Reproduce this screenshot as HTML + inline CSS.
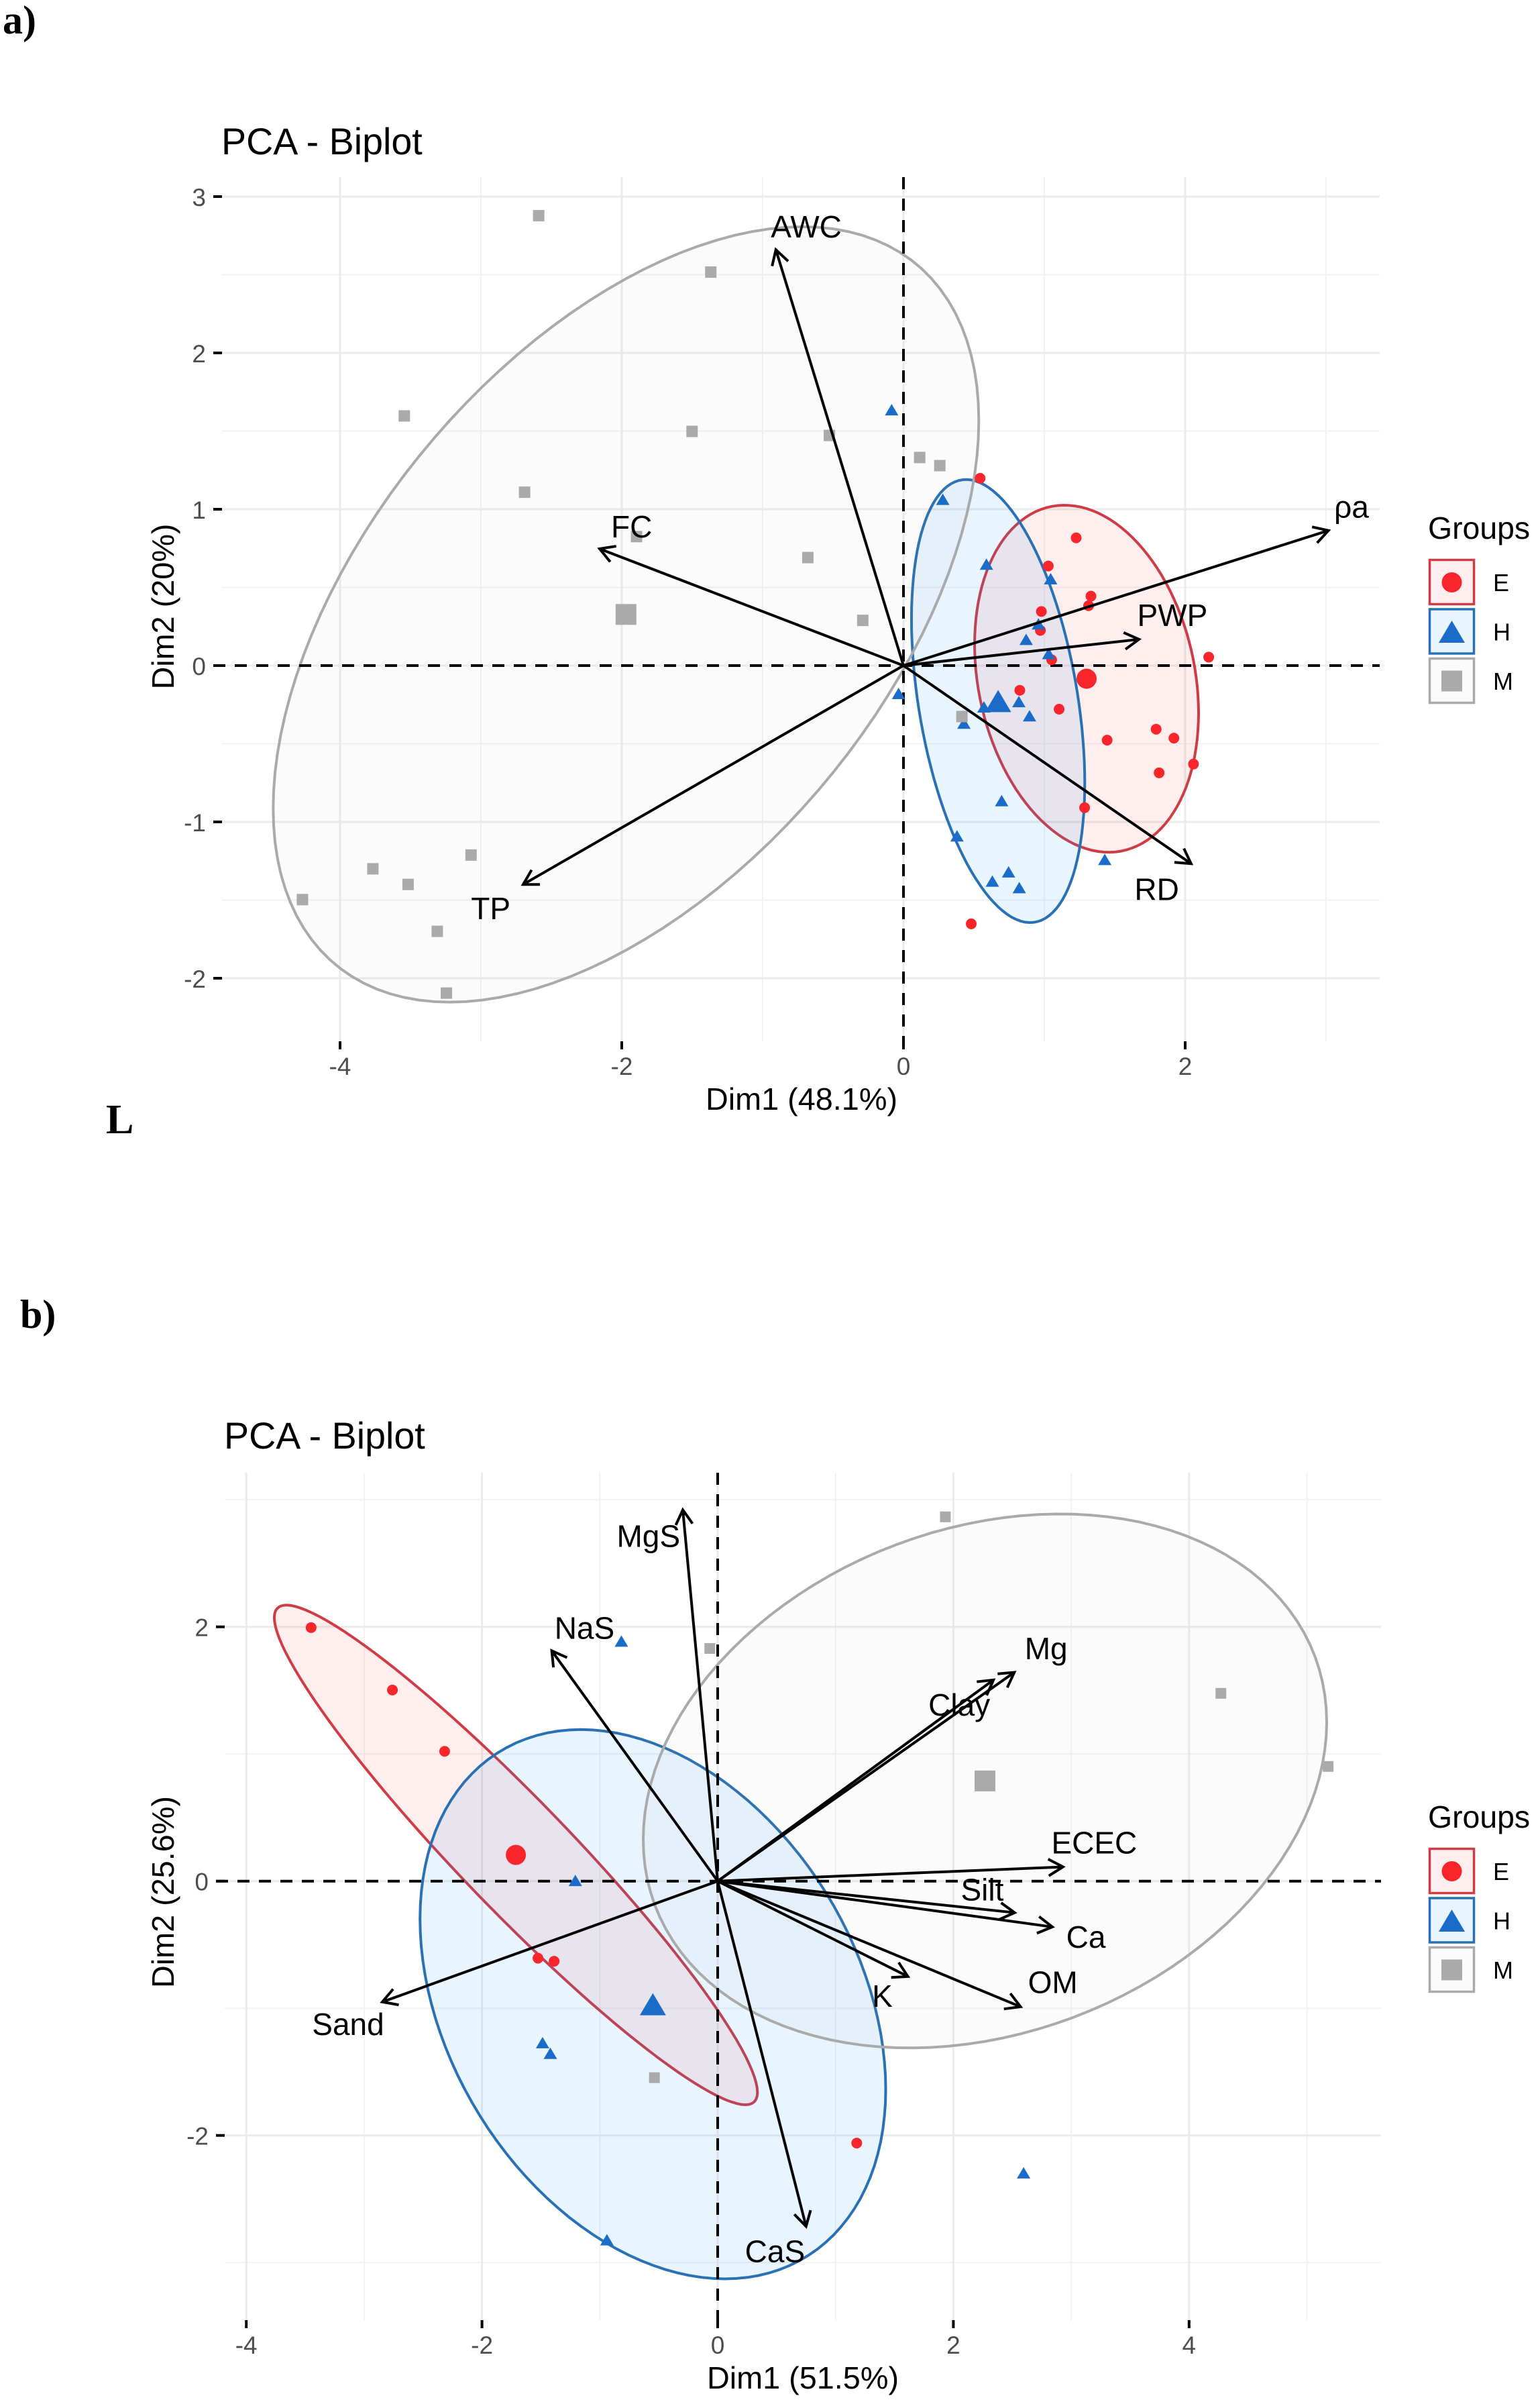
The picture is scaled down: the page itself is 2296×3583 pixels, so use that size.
<!DOCTYPE html>
<html lang="en">
<head>
<meta charset="utf-8">
<title>PCA Biplots</title>
<style>
html,body{margin:0;padding:0;background:#fff;}
svg{display:block;}
text{font-family:"Liberation Sans",sans-serif;}
.panel-tag{font-family:"Liberation Serif",serif;font-weight:bold;fill:#000;}
</style>
</head>
<body>
<svg id="chart" xmlns="http://www.w3.org/2000/svg" width="2296" height="3583" viewBox="0 0 2296 3583">
  <rect x="0" y="0" width="2296" height="3583" fill="#ffffff"/>
  <text class="panel-tag" x="4" y="50" font-size="60">a)</text>
  <text class="panel-tag" x="158" y="1689" font-size="62">L</text>
  <text class="panel-tag" x="30" y="1979" font-size="60">b)</text>

  <text x="330" y="230" font-size="55.6" fill="#000">PCA - Biplot</text>
  <text x="1195" y="1654" font-size="46.8" text-anchor="middle" fill="#000">Dim1 (48.1%)</text>
  <text transform="translate(259 904) rotate(-90)" font-size="46.8" text-anchor="middle" fill="#000">Dim2 (20%)</text>

  <text x="334" y="2159" font-size="55.6" fill="#000">PCA - Biplot</text>
  <text x="1197" y="3560" font-size="46.8" text-anchor="middle" fill="#000">Dim1 (51.5%)</text>
  <text transform="translate(259 2820) rotate(-90)" font-size="46.8" text-anchor="middle" fill="#000">Dim2 (25.6%)</text>
</svg>
<script>
/* ---------- Panel a data ---------- */
const aEx = [0.544,1.226,1.028,1.331,1.314,0.979,0.972,1.052,2.167,0.826,1.105,1.446,1.794,1.920,2.059,1.815,1.286,0.481];
const aEy = [1.198,0.817,0.637,0.444,0.383,0.346,0.225,0.037,0.054,-0.158,-0.279,-0.477,-0.407,-0.464,-0.630,-0.686,-0.909,-1.652];
const aHx = [-0.084,0.279,0.589,1.045,0.958,0.871,1.031,-0.035,0.571,0.819,0.895,0.429,0.697,0.380,0.746,0.631,0.822,1.429];
const aHy = [1.637,1.064,0.649,0.556,0.267,0.168,0.077,-0.178,-0.264,-0.230,-0.321,-0.368,-0.864,-1.089,-1.319,-1.378,-1.420,-1.240];
const aMx = [-2.59,-1.368,-3.544,-1.501,-2.69,-1.895,-0.526,0.115,0.258,-0.679,-0.289,0.415,-4.267,-3.767,-3.517,-3.07,-3.31,-3.245];
const aMy = [2.878,2.517,1.597,1.498,1.109,0.825,1.472,1.331,1.279,0.691,0.289,-0.326,-1.497,-1.30,-1.40,-1.212,-1.70,-2.095];
const aMeanX = [1.30,0.672,-1.97];
const aMeanY = [-0.084,-0.227,0.327];
const aEllipseRx = [0.795,0.615,2.505];
const aEllipseRy = [1.11,1.417,2.48];
const aEllipseCorr = [-0.197,-0.37,0.5];
const aArrowNames = ["ρa","PWP","RD","AWC","FC","TP"];
const aArrowX = [3.017,1.672,2.042,-0.906,-2.157,-2.70];
const aArrowY = [0.864,0.168,-1.267,2.66,0.747,-1.40];
const aLabelX = [3.181,1.909,1.798,-0.69,-1.93,-2.93];
const aLabelY = [0.946,0.254,-1.499,2.738,0.82,-1.623];
const aXMajor = [-4,-2,0,2];
const aXMinor = [-3,-1,1,3];
const aYMajor = [-2,-1,0,1,2,3];
const aYMinor = [-1.5,-0.5,0.5,1.5,2.5];

/* ---------- Panel b data ---------- */
const bEx = [-3.45,-2.76,-2.317,-1.525,-1.388,1.18];
const bEy = [1.994,1.503,1.021,-0.606,-0.630,-2.06];
const bHx = [-0.817,-1.208,-1.486,-1.42,-0.94,2.596];
const bHy = [1.888,0.006,-1.27,-1.354,-2.82,-2.294];
const bMx = [-0.067,1.932,4.27,5.18,-0.537];
const bMy = [1.83,2.865,1.477,0.902,-1.546];
const bMeanX = [-1.7125,-0.55,2.268];
const bMeanY = [0.206,-0.968,0.788];
const bEllipseRx = [2.05,1.976,2.9];
const bEllipseRy = [1.965,2.16,2.1];
const bEllipseCorr = [-0.95,-0.31,0.22];
const bArrowNames = ["MgS","NaS","Sand","Mg","Clay","ECEC","Silt","Ca","K","OM","CaS"];
const bArrowX = [-0.296,-1.408,-2.846,2.517,2.34,2.93,2.52,2.84,1.614,2.57,0.75];
const bArrowY = [2.92,1.812,-0.95,1.642,1.582,0.112,-0.248,-0.36,-0.75,-0.988,-2.715];
const bLabelX = [-0.5875,-1.13,-3.136,2.787,2.05,3.195,2.245,3.125,1.397,2.844,0.486];
const bLabelY = [2.63,1.906,-1.21,1.745,1.303,0.218,-0.152,-0.524,-0.988,-0.879,-2.996];
const bXMajor = [-4,-2,0,2,4];
const bXMinor = [-3,-1,1,3,5];
const bYMajor = [-2,0,2];
const bYMinor = [-3,-1,1,3];

/* ---------- Group styling ---------- */
const groupNames = ["E","H","M"];
const groupPoint = ["#f8262b","#1a6cc8","#aaaaaa"];
const groupLine = ["#d03c46","#2a70b4","#aaaaaa"];
const groupFill = ["#f8262b","#2196f3","#aaaaaa"];
const groupFillAlpha = [0.08,0.1,0.05];

const NS = "http://www.w3.org/2000/svg";
const svg = document.getElementById("chart");

function mk(tag, attrs, parent) {
  const el = document.createElementNS(NS, tag);
  for (const k in attrs) el.setAttribute(k, attrs[k]);
  (parent || svg).appendChild(el);
  return el;
}

function linear(origin, pxPerUnit) {
  return function (v) { return origin + v * pxPerUnit; };
}

function drawMarker(group, px, py, big, sqSize, parent, name) {
  let el;
  if (group === 0) {
    el = mk("circle", {cx: px, cy: py, r: big ? 15 : 8, fill: groupPoint[0]}, parent);
  } else if (group === 1) {
    const w = big ? 19.5 : 10, h = big ? 33 : 17;
    el = mk("polygon", {points: (px) + "," + (py - h / 2) + " " + (px + w) + "," + (py + h / 2) + " " + (px - w) + "," + (py + h / 2), fill: groupPoint[1]}, parent);
  } else {
    const s = big ? 31 : sqSize;
    el = mk("rect", {x: px - s / 2, y: py - s / 2, width: s, height: s, fill: groupPoint[2]}, parent);
  }
  
  
  return el;
}

function drawPanel(p) {
  const X = linear(p.x0, p.sx), Y = linear(p.y0, -p.sy);
  const g = mk("g", {}, svg);
  
  

  /* grid */
  p.xMinor.forEach(function (v) {
    const l = mk("line", {x1: X(v), x2: X(v), y1: p.top, y2: p.bottom, stroke: "#f2f2f2", "stroke-width": 2}, g);
    
    
  });
  p.yMinor.forEach(function (v) {
    const l = mk("line", {x1: p.left, x2: p.right, y1: Y(v), y2: Y(v), stroke: "#f2f2f2", "stroke-width": 2}, g);
    
    
  });
  p.xMajor.forEach(function (v) {
    const l = mk("line", {x1: X(v), x2: X(v), y1: p.top, y2: p.bottom, stroke: "#ebebeb", "stroke-width": 3}, g);
    
    
  });
  p.yMajor.forEach(function (v) {
    const l = mk("line", {x1: p.left, x2: p.right, y1: Y(v), y2: Y(v), stroke: "#ebebeb", "stroke-width": 3}, g);
    
    
  });

  /* ticks and tick labels */
  p.xMajor.forEach(function (v) {
    const t = mk("line", {x1: X(v), x2: X(v), y1: p.bottom, y2: p.bottom + 12, stroke: "#000", "stroke-width": 4}, g);
    
    
    const lab = mk("text", {x: X(v), y: p.bottom + 50, "font-size": 37, "text-anchor": "middle", fill: "#4d4d4d"}, g);
    lab.textContent = String(v);
    
    
  });
  p.yMajor.forEach(function (v) {
    const t = mk("line", {x1: p.left - 13, x2: p.left, y1: Y(v), y2: Y(v), stroke: "#000", "stroke-width": 4}, g);
    
    
    const lab = mk("text", {x: p.left - 24, y: Y(v) + 14, "font-size": 37, "text-anchor": "end", fill: "#4d4d4d"}, g);
    lab.textContent = String(v);
    
    
  });

  /* ellipses */
  [0, 1, 2].forEach(function (i) {
    const r = p.corr[i], q = Math.sqrt(1 - r * r);
    let d = "";
    for (let k = 0; k < 120; k++) {
      const t = k / 120 * 2 * Math.PI;
      const ex = p.meanX[i] + p.rx[i] * Math.cos(t);
      const ey = p.meanY[i] + p.ry[i] * (r * Math.cos(t) + q * Math.sin(t));
      d += (k ? "L" : "M") + X(ex).toFixed(1) + " " + Y(ey).toFixed(1);
    }
    const e = mk("path", {d: d + "Z", fill: groupFill[i], "fill-opacity": groupFillAlpha[i], stroke: groupLine[i], "stroke-width": 4}, g);
    
    
  });

  /* origin dashed lines */
  const h = mk("line", {x1: p.left - 13, x2: p.right, y1: Y(0), y2: Y(0), stroke: "#000", "stroke-width": 4, "stroke-dasharray": "18 14"}, g);
  
  
  const vl = mk("line", {x1: X(0), x2: X(0), y1: p.top, y2: p.bottom + 12, stroke: "#000", "stroke-width": 4, "stroke-dasharray": "18 14"}, g);
  
  

  /* points */
  p.points.forEach(function (s, i) {
    s.x.forEach(function (v, k) {
      drawMarker(i, X(v), Y(s.y[k]), false, p.squareSize, g, 'point-group-' + groupNames[i]);
    });
    drawMarker(i, X(p.meanX[i]), Y(p.meanY[i]), true, p.squareSize, g, 'centroid-group-' + groupNames[i]);
  });

  /* arrows */
  p.arrowNames.forEach(function (name, i) {
    const tx = X(p.arrowX[i]), ty = Y(p.arrowY[i]), ox = X(0), oy = Y(0);
    const a = Math.atan2(ty - oy, tx - ox), len = 25, sp = Math.PI / 6;
    const d = "M" + ox + " " + oy + "L" + tx + " " + ty +
      "M" + (tx - len * Math.cos(a - sp)) + " " + (ty - len * Math.sin(a - sp)) +
      "L" + tx + " " + ty +
      "L" + (tx - len * Math.cos(a + sp)) + " " + (ty - len * Math.sin(a + sp));
    const ar = mk("path", {d: d, fill: "none", stroke: "#000", "stroke-width": 4}, g);
    
    
    const lab = mk("text", {x: X(p.labelX[i]), y: Y(p.labelY[i]), "font-size": 46, "text-anchor": "middle", fill: "#000"}, g);
    lab.textContent = name;
    
    
  });

  /* legend */
  const lt = mk("text", {x: 2129, y: p.legendTop - 30, "font-size": 46.4, fill: "#000"}, g);
  lt.textContent = "Groups";
  
  
  [0, 1, 2].forEach(function (i) {
    const ky = p.legendTop + i * 73.5;
    const bg = mk("rect", {x: 2131.5, y: ky + 1.5, width: 66, height: 66, fill: "#fff", stroke: "none"}, g);
    
    
    const key = mk("rect", {x: 2131.5, y: ky + 1.5, width: 66, height: 66, fill: groupFill[i], "fill-opacity": groupFillAlpha[i], stroke: groupLine[i], "stroke-width": 3.5}, g);
    
    
    drawMarker(i, 2164.5, ky + 35, true, 31, g, 'legend-marker-' + groupNames[i]);
    const lb = mk("text", {x: 2226, y: ky + 48, "font-size": 36, fill: "#000"}, g);
    lb.textContent = groupNames[i];
    
    
  });
}

drawPanel({
  id: "panel-a", x0: 1347, sx: 210, y0: 992, sy: 233,
  left: 331, right: 2057, top: 264, bottom: 1552,
  xMajor: aXMajor, xMinor: aXMinor, yMajor: aYMajor, yMinor: aYMinor,
  points: [{x: aEx, y: aEy}, {x: aHx, y: aHy}, {x: aMx, y: aMy}],
  meanX: aMeanX, meanY: aMeanY, rx: aEllipseRx, ry: aEllipseRy, corr: aEllipseCorr,
  arrowNames: aArrowNames, arrowX: aArrowX, arrowY: aArrowY, labelX: aLabelX, labelY: aLabelY,
  squareSize: 17, legendTop: 833
});

drawPanel({
  id: "panel-b", x0: 1070, sx: 175.7, y0: 2803.7, sy: 189.5,
  left: 335, right: 2059, top: 2195, bottom: 3458,
  xMajor: bXMajor, xMinor: bXMinor, yMajor: bYMajor, yMinor: bYMinor,
  points: [{x: bEx, y: bEy}, {x: bHx, y: bHy}, {x: bMx, y: bMy}],
  meanX: bMeanX, meanY: bMeanY, rx: bEllipseRx, ry: bEllipseRy, corr: bEllipseCorr,
  arrowNames: bArrowNames, arrowX: bArrowX, arrowY: bArrowY, labelX: bLabelX, labelY: bLabelY,
  squareSize: 16, legendTop: 2754
});
</script>
</body>
</html>
